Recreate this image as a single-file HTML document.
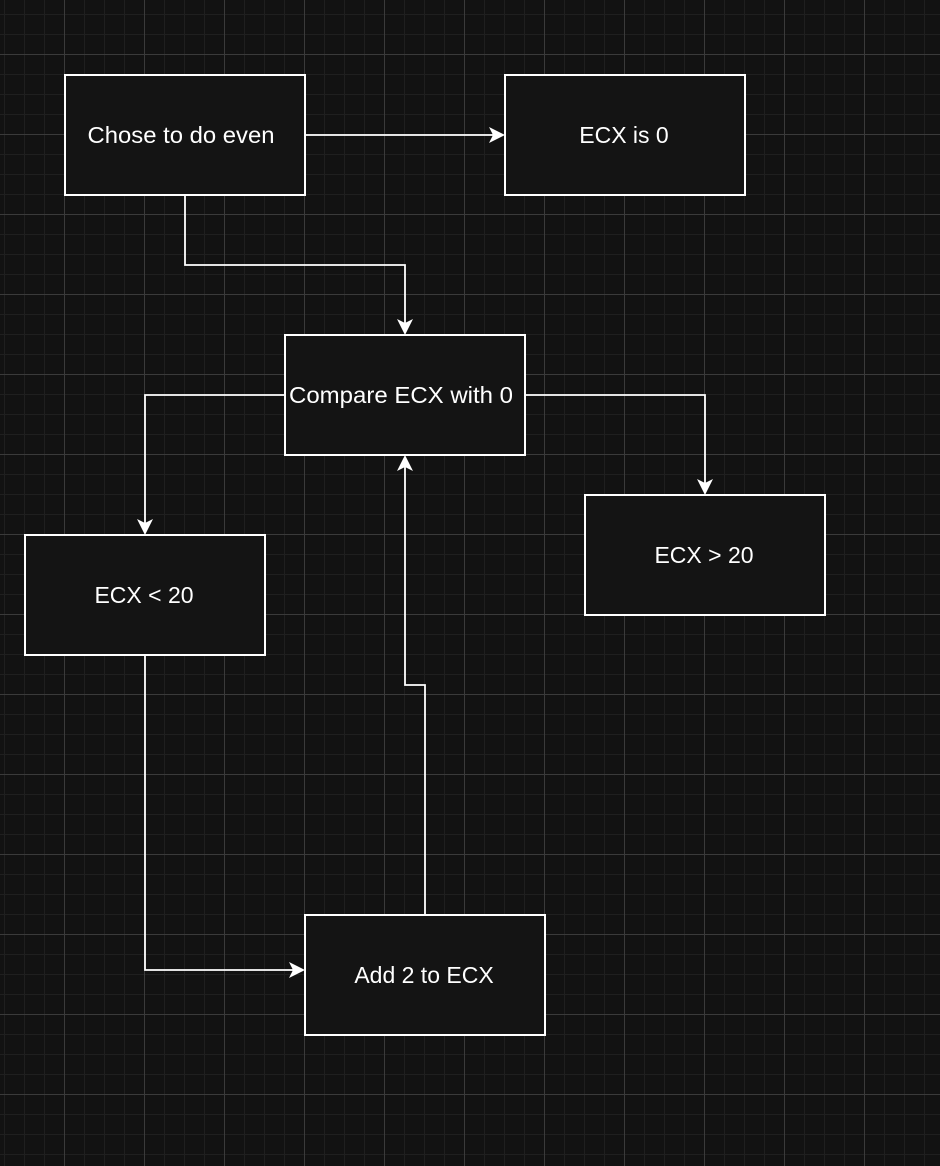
<!DOCTYPE html>
<html><head><meta charset="utf-8"><style>
html,body{margin:0;padding:0;background:#121212;}
svg{display:block;}
text{font-family:"Liberation Sans",Arial,sans-serif;font-size:23px;fill:#fff;}
</style></head><body>
<svg width="940" height="1166" viewBox="0 0 940 1166" xmlns="http://www.w3.org/2000/svg">
<defs>
<pattern id="minor" x="4" y="14" width="20" height="20" patternUnits="userSpaceOnUse">
<path d="M0.5 0V20M0 0.5H20" stroke="#1f1f1f" stroke-width="1" fill="none"/>
</pattern>
<pattern id="major" x="64" y="54" width="80" height="80" patternUnits="userSpaceOnUse">
<path d="M0.5 0V80M0 0.5H80" stroke="#3a3a3a" stroke-width="1" fill="none"/>
</pattern>
</defs>
<rect width="940" height="1166" fill="#121212"/>
<rect width="940" height="1166" fill="url(#minor)"/>
<rect width="940" height="1166" fill="url(#major)"/>
<g fill="none" stroke="#fff" stroke-width="1.8">
<path d="M305 135H503"/>
<path d="M185 195V265H405V333"/>
<path d="M285 395H145V533"/>
<path d="M525 395H705V493"/>
<path d="M145 655V970H303"/>
<path d="M425 915V685H405V457"/>
</g>
<g fill="#fff">
<path d="M505 135L489 127L493 135L489 143Z"/>
<path d="M405 335L397 319L405 323L413 319Z"/>
<path d="M145 535L137 519L145 523L153 519Z"/>
<path d="M705 495L697 479L705 483L713 479Z"/>
<path d="M305 970L289 962L293 970L289 978Z"/>
<path d="M405 455L397 471L405 467L413 471Z"/>
</g>
<g fill="#141414" stroke="#fff" stroke-width="2">
<rect x="65" y="75" width="240" height="120"/>
<rect x="505" y="75" width="240" height="120"/>
<rect x="285" y="335" width="240" height="120"/>
<rect x="25" y="535" width="240" height="120"/>
<rect x="585" y="495" width="240" height="120"/>
<rect x="305" y="915" width="240" height="120"/>
</g>
<g text-anchor="middle">
<text x="181" y="143" textLength="187" lengthAdjust="spacingAndGlyphs">Chose to do even</text>
<text x="624" y="143">ECX is 0</text>
<text x="401" y="403" textLength="224" lengthAdjust="spacingAndGlyphs">Compare ECX with 0</text>
<text x="144" y="603">ECX &lt; 20</text>
<text x="704" y="563">ECX &gt; 20</text>
<text x="424" y="983">Add 2 to ECX</text>
</g>
</svg>
</body></html>
